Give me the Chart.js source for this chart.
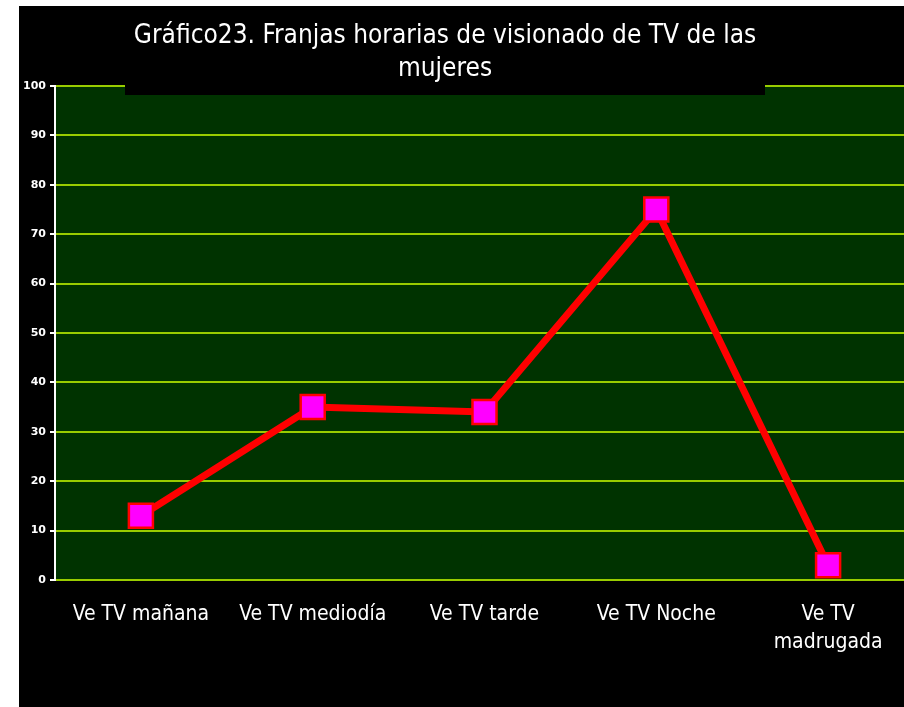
<!DOCTYPE html>
<html>
<head>
<meta charset="utf-8">
<script src="https://cdn.jsdelivr.net/npm/chart.js@4"></script>
<style>
  html, body { margin: 0; padding: 0; background: #fff; overflow: hidden; }
  #wrap { position: absolute; left: 19px; top: 6px; width: 900px; height: 701px; background: #000; }
</style>
</head>
<body>
<div id="wrap"><canvas id="chart" width="900" height="701"></canvas></div>
<script>
const categories = ['Ve TV mañana', 'Ve TV mediodía', 'Ve TV tarde', 'Ve TV Noche', ['Ve TV', 'madrugada']];
const values = [13, 35, 34, 75, 3];
const titleLines = ['Gráfico23. Franjas horarias de visionado de TV de las', 'mujeres'];

const FONT = "'DejaVu Sans Condensed', 'DejaVu Sans', sans-serif";

// dark green plot background
const plotBg = {
    id: 'plotBg',
    beforeDraw(chart) {
        const a = chart.chartArea;
        const ctx = chart.ctx;
        ctx.save();
        ctx.fillStyle = '#003300';
        ctx.fillRect(a.left, a.top, a.right - a.left, a.bottom - a.top);
        ctx.restore();
    }
};

// black title box that sits over the top of the plot
const titleBox = {
    id: 'titleBox',
    afterDraw(chart) {
        const ctx = chart.ctx;
        ctx.save();
        ctx.fillStyle = '#000';
        ctx.fillRect(106, 0, 640, 89);
        ctx.fillStyle = '#fff';
        ctx.font = '26px ' + FONT;
        ctx.textAlign = 'center';
        ctx.textBaseline = 'alphabetic';
        ctx.fillText(titleLines[0], 426, 37);
        ctx.fillText(titleLines[1], 426, 70);
        ctx.restore();
    }
};

new Chart(document.getElementById('chart'), {
    type: 'line',
    data: {
        labels: categories,
        datasets: [{
            data: values,
            borderColor: '#ff0000',
            borderWidth: 7,
            tension: 0,
            pointStyle: 'rect',
            pointRadius: 17,
            pointHoverRadius: 17,
            pointBackgroundColor: '#ff00ff',
            pointBorderColor: '#ff0000',
            pointBorderWidth: 2.5
        }]
    },
    options: {
        responsive: false,
        animation: false,
        events: [],
        layout: { autoPadding: false, padding: { top: 80, right: 5, bottom: 0, left: 0 } },
        plugins: {
            legend: { display: false },
            title: { display: false },
            tooltip: { enabled: false }
        },
        scales: {
            x: {
                offset: true,
                grid: { display: false },
                border: { display: false },
                ticks: {
                    color: '#fff',
                    font: { family: FONT, size: 21, lineHeight: 1.33 },
                    padding: 13,
                    maxRotation: 0,
                    autoSkip: false
                },
                afterFit(s) { s.height = 127; }
            },
            y: {
                min: 0,
                max: 100,
                ticks: {
                    stepSize: 10,
                    color: '#fff',
                    padding: 4,
                    font: { family: "'DejaVu Sans', sans-serif", size: 11, weight: 'bold' }
                },
                grid: {
                    color: '#99cc00',
                    lineWidth: 2,
                    tickColor: '#fff',
                    tickLength: 5
                },
                border: { display: true, color: '#fff', width: 2 },
                afterFit(s) { s.width = 36; }
            }
        }
    },
    plugins: [plotBg, titleBox]
});
</script>
</body>
</html>
